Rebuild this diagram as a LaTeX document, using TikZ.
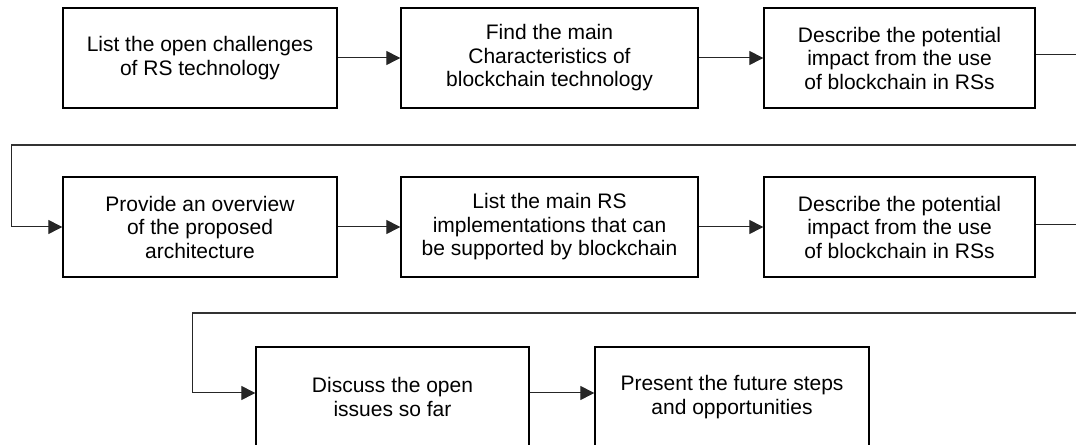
\documentclass[tikz,border=0pt]{standalone}
\usepackage{fontspec}
\setmainfont{Liberation Sans}
\usetikzlibrary{arrows.meta}
\begin{document}
\begin{tikzpicture}[x=1bp,y=-1bp,
  box/.style={draw=black,line width=1.3bp,rectangle,minimum height=100bp,inner sep=0pt,align=center,
    font=\fontsize{21bp}{23.5bp}\selectfont},
  arr/.style={draw=black!85,line width=1bp,-{Triangle[length=14bp,width=14bp]}},
  lnk/.style={draw=black!85,line width=1bp},
  wrap/.style={draw=black!80,line width=1.8bp}]
\clip (0,0) rectangle (1076,445);
\node[box,minimum width=274bp] (b1) at (200,58) {List the open challenges\\of RS technology};
\node[box,minimum width=297bp] (b2) at (549.5,58) {Find the main\\Characteristics of\\blockchain technology};
\node[box,minimum width=271bp] (b3) at (899.5,58) {Describe the potential\\impact from the use\\of blockchain in RSs};
\node[box,minimum width=274bp] (b4) at (200,227) {Provide an overview\\of the proposed\\architecture};
\node[box,minimum width=297bp] (b5) at (549.5,227) {List the main RS\\implementations that can\\be supported by blockchain};
\node[box,minimum width=271bp] (b6) at (899.5,227) {Describe the potential\\impact from the use\\of blockchain in RSs};
\node[box,minimum width=273bp] (b7) at (392.5,397) {Discuss the open\\issues so far};
\node[box,minimum width=274bp] (b8) at (732,397) {Present the future steps\\and opportunities};
\draw[arr] (b1) -- (b2);
\draw[arr] (b2) -- (b3);
\draw[arr] (b4) -- (b5);
\draw[arr] (b5) -- (b6);
\draw[arr] ([yshift=4bp]b7.east) -- ([yshift=4bp]b8.west);
\coordinate (e1) at (1076,55);
\coordinate (e2) at (1076,225);
\draw[lnk] (b3.east |- e1) -- (e1);
\draw[lnk] (b6.east |- e2) -- (e2);
\coordinate (w1a) at (1076,145);
\coordinate (w1b) at (11,145);
\draw[wrap] (w1a) -- (w1b);
\draw[arr] (w1b) |- (b4.west);
\coordinate (w2a) at (1076,313);
\coordinate (w2b) at (192,313);
\draw[wrap] (w2a) -- (w2b);
\draw[arr] (w2b) |- ([yshift=4bp]b7.west);
\end{tikzpicture}
\end{document}
